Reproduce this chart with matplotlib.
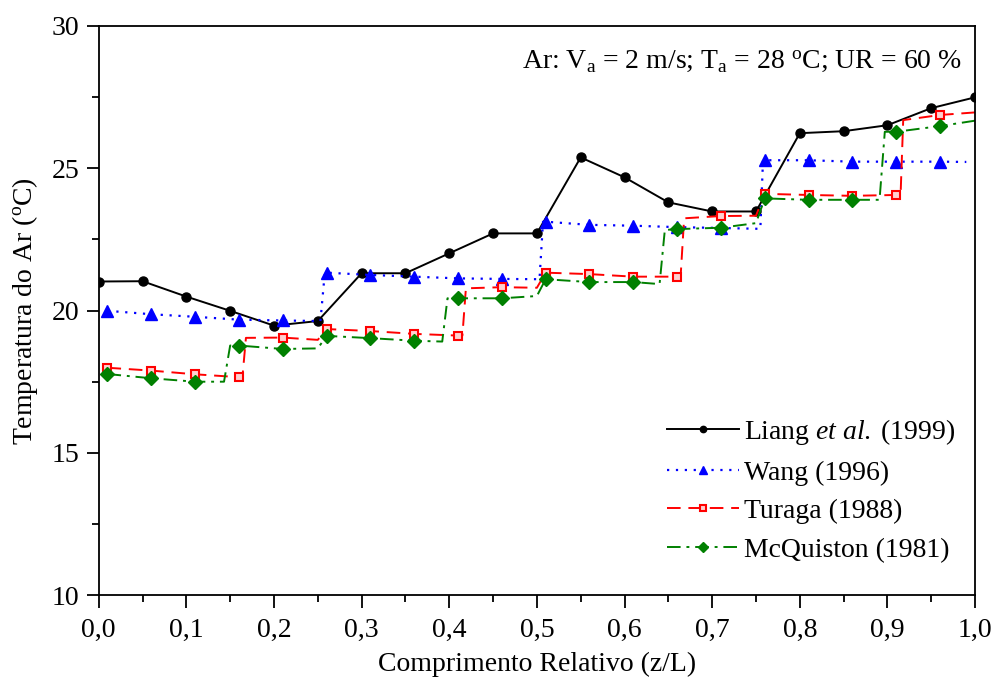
import numpy as np
import matplotlib
matplotlib.use("Agg")
import matplotlib.pyplot as plt
from matplotlib.ticker import MultipleLocator, FuncFormatter

plt.rcParams['font.family'] = 'Liberation Serif'
plt.rcParams['mathtext.fontset'] = 'custom'
plt.rcParams['mathtext.rm'] = 'Liberation Serif'
plt.rcParams['mathtext.it'] = 'Liberation Serif:italic'

# Liang et al. (1999)
liang_x = [0.0, 0.05, 0.1, 0.15, 0.2, 0.25, 0.3, 0.35, 0.4, 0.45, 0.5,
           0.55, 0.6, 0.65, 0.7, 0.75, 0.8, 0.85, 0.9, 0.95, 1.0]
liang_y = [21.02, 21.03, 20.49, 19.99, 19.47, 19.63, 21.31, 21.31, 22.01, 22.71, 22.71,
           25.38, 24.68, 23.80, 23.48, 23.48, 26.23, 26.30, 26.51, 27.11, 27.49]

# Wang (1996)
wang_x = [0.01, 0.06, 0.11, 0.16, 0.21, 0.253, 0.258, 0.26, 0.31, 0.36, 0.41, 0.46,
          0.503, 0.507, 0.51, 0.56, 0.61, 0.66, 0.71, 0.755, 0.758, 0.76, 0.81, 0.86,
          0.91, 0.96, 0.99]
wang_y = [19.99, 19.87, 19.78, 19.68, 19.65, 19.63, 21.33, 21.33, 21.25, 21.19, 21.13, 21.11,
          21.10, 23.12, 23.12, 23.01, 22.98, 22.93, 22.90, 22.87, 25.28, 25.28, 25.28, 25.23,
          25.23, 25.23, 25.22]

# Turaga (1988)
turaga_x = [0.01, 0.06, 0.11, 0.16, 0.164, 0.168, 0.21, 0.25, 0.26, 0.31, 0.36, 0.41,
            0.415, 0.419, 0.46, 0.50, 0.51, 0.56, 0.61, 0.66, 0.664, 0.668, 0.71, 0.75,
            0.76, 0.81, 0.86, 0.91, 0.915, 0.918, 0.96, 1.0]
turaga_y = [17.99, 17.89, 17.76, 17.66, 17.66, 19.04, 19.05, 18.97, 19.35, 19.28, 19.18, 19.12,
            19.12, 20.78, 20.82, 20.80, 21.33, 21.28, 21.19, 21.19, 21.19, 23.24, 23.32, 23.33,
            24.10, 24.06, 24.03, 24.06, 24.06, 26.69, 26.87, 26.96]

# McQuiston (1981)
mcq_x = [0.01, 0.06, 0.11, 0.143, 0.150, 0.16, 0.21, 0.25, 0.26, 0.31, 0.36, 0.392,
         0.398, 0.41, 0.46, 0.50, 0.51, 0.56, 0.61, 0.640, 0.646, 0.66, 0.71, 0.75,
         0.76, 0.81, 0.86, 0.891, 0.897, 0.91, 0.96, 1.0]
mcq_y = [17.77, 17.62, 17.50, 17.50, 18.77, 18.77, 18.65, 18.67, 19.11, 19.03, 18.94, 18.91,
         20.43, 20.43, 20.43, 20.51, 21.10, 21.00, 21.00, 20.93, 22.83, 22.86, 22.91, 23.07,
         23.94, 23.89, 23.89, 23.89, 26.28, 26.28, 26.48, 26.67]

# symbols are shown every 0.05 starting at 0.01 on the model curves
mark_pos = np.round(np.arange(0.01, 1.0, 0.05), 3)


def marks(xs):
    return list(np.flatnonzero(np.isin(np.round(xs, 3), mark_pos)))


fig = plt.figure(figsize=(9.97, 6.81), dpi=100)
ax = fig.add_axes([0.099, 0.126, 0.879, 0.836])

ax.plot(liang_x, liang_y, color='black', lw=1.4, marker='o', ms=6.5,
        label=r'Liang $\mathit{et\ al.}\;$(1999)')
ax.plot(wang_x, wang_y, color='#0000ff', lw=1.6, ls=(0, (1, 3)), marker='^', ms=9,
        markevery=marks(wang_x), label='Wang (1996)')
ax.plot(turaga_x, turaga_y, color='#ff0000', lw=1.4, ls=(0, (7, 4)), marker='s', ms=6,
        mfc='#ffd0d0', mec='#ff0000', mew=1.5, markevery=marks(turaga_x),
        label='Turaga (1988)')
ax.plot(mcq_x, mcq_y, color='#008000', lw=1.4, ls=(0, (7, 3, 1.5, 3)), marker='D', ms=7.5,
        markevery=marks(mcq_x), label='McQuiston (1981)')

ax.set_xlim(0, 1)
ax.set_ylim(10, 30)
ax.xaxis.set_major_locator(MultipleLocator(0.1))
ax.xaxis.set_minor_locator(MultipleLocator(0.05))
ax.yaxis.set_major_locator(MultipleLocator(5))
ax.yaxis.set_minor_locator(MultipleLocator(2.5))
ax.xaxis.set_major_formatter(FuncFormatter(lambda v, p: f'{v:.1f}'.replace('.', ',')))
ax.tick_params(which='major', direction='out', length=9, width=1.3, labelsize=20, pad=5)
ax.tick_params(axis='x', which='major', pad=7)
ax.tick_params(which='minor', direction='out', length=5, width=1.3)
for s in ax.spines.values():
    s.set_linewidth(1.3)

ax.set_xlabel('Comprimento Relativo (z/L)', fontsize=20, labelpad=7)
ax.set_ylabel(r'Temperatura do Ar ($^\mathrm{o}$C)', fontsize=20, labelpad=8)

ax.text(0.985, 0.96,
        r'Ar: V$_\mathrm{a}$ = 2 m/s; T$_\mathrm{a}$ = 28 $^\mathrm{o}$C; UR = 60 %',
        transform=ax.transAxes, ha='right', va='top', fontsize=20)

ax.legend(loc='lower right', bbox_to_anchor=(1.0, 0.023), frameon=False, fontsize=20,
          handlelength=2.6, handletextpad=0.2, labelspacing=0.47, markerscale=0.7,
          borderaxespad=0.3)

fig.savefig('out.png', dpi=100)
